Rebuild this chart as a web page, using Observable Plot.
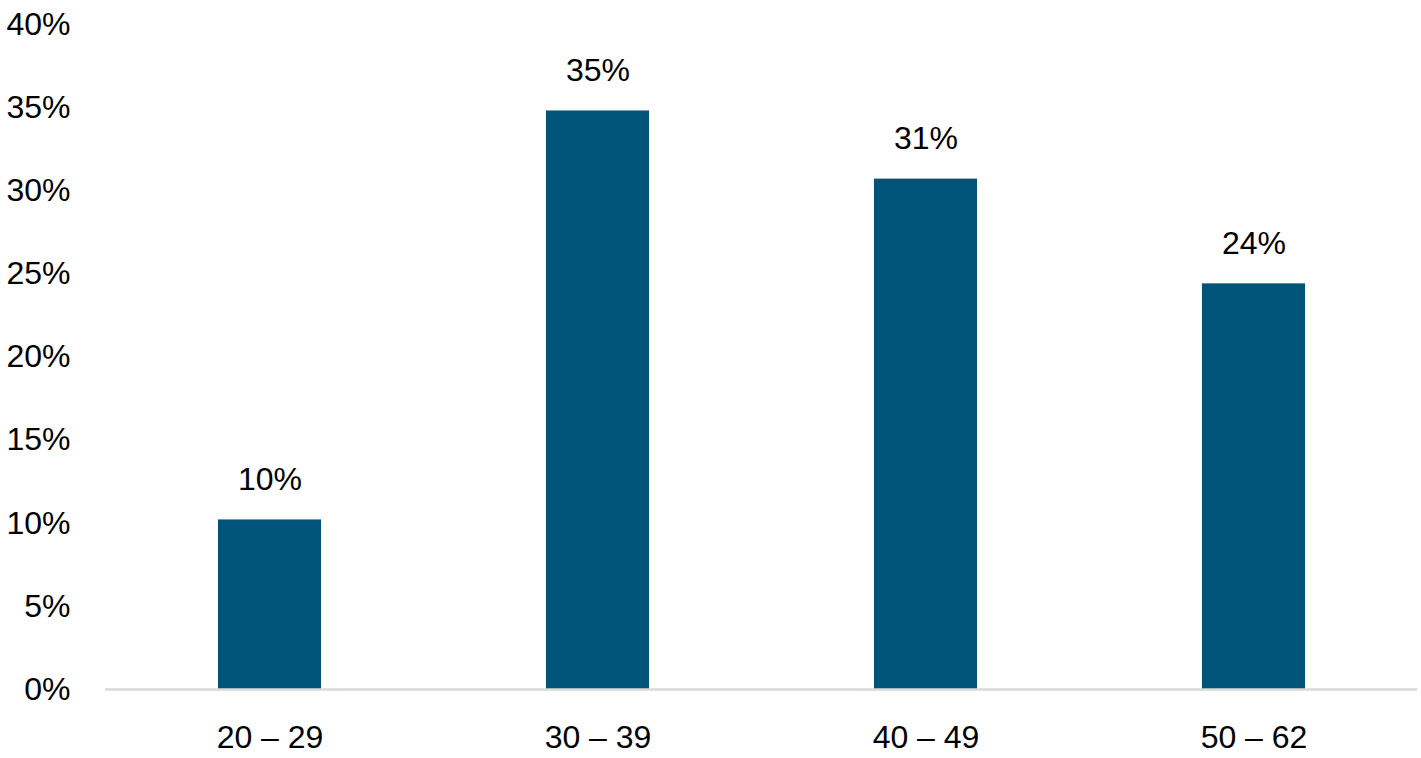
<!DOCTYPE html>
<html>
<head>
<meta charset="utf-8">
<script src="https://cdn.jsdelivr.net/npm/d3@7"></script>
<script src="https://cdn.jsdelivr.net/npm/@observablehq/plot@0.6"></script>
<style>
  html, body { margin: 0; padding: 0; background: #fff; }
  #chart svg { display: block; }
</style>
</head>
<body>
<div id="chart"></div>
<script>
const categories = ["20 – 29", "30 – 39", "40 – 49", "50 – 62"];
const values = [0.102, 0.348, 0.307, 0.244];
const yTicks = [0, 0.05, 0.10, 0.15, 0.20, 0.25, 0.30, 0.35, 0.40];

const data = categories.map((c, i) => ({category: c, value: values[i]}));
const pct = d3.format(".0%");

const chart = Plot.plot({
  width: 1421,
  height: 758,
  marginLeft: 105,
  marginRight: 4,
  marginTop: 24,
  marginBottom: 69,
  style: {fontFamily: "'Liberation Sans', Arial, sans-serif", fontSize: "32px", color: "#000", background: "#fff"},
  x: {domain: categories, paddingInner: 0.686, paddingOuter: 0.343, label: null},
  y: {domain: [0, 0.40], label: null},
  marks: [
    Plot.barY(data, {x: "category", y: "value", fill: "#00547A"}),
    Plot.ruleY([0], {stroke: "#d9d9d9", strokeWidth: 2.5}),
    Plot.text(data, {x: "category", y: "value", text: d => pct(d.value), dy: -40, fontSize: 32, fill: "#000"}),
    Plot.axisY({ticks: yTicks, tickFormat: pct, tickSize: 0, tickPadding: 35, fontSize: 32, label: null}),
    Plot.axisX({tickSize: 0, tickPadding: 36, fontSize: 32, label: null})
  ]
});
document.getElementById("chart").appendChild(chart);
</script>
</body>
</html>
